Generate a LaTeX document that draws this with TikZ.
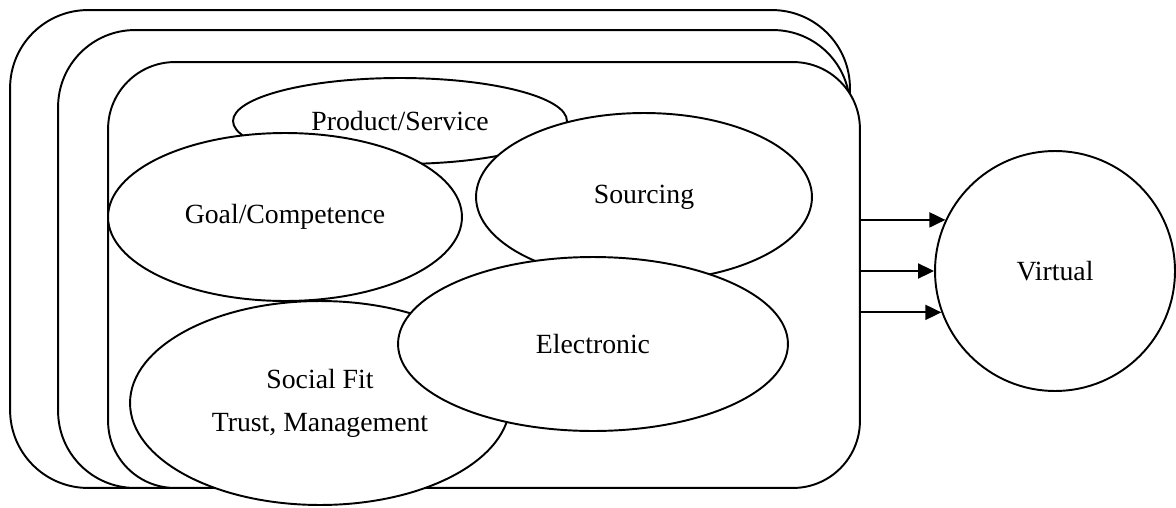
\documentclass[tikz,border=0pt]{standalone}
\usepackage{fontspec}
\setmainfont{Liberation Serif}
\usetikzlibrary{shapes.geometric,arrows.meta}
\tikzset{
  frame/.style={draw, fill=white, line width=1.1pt, rectangle},
  bubble/.style={draw, fill=white, line width=1.1pt, ellipse, inner sep=0pt,
    align=center, font=\fontsize{15.8}{24.5}\selectfont},
  flow/.style={draw, line width=1.1pt, -{Triangle[length=0.32cm,width=0.3cm]}},
}

\begin{document}
\begin{tikzpicture}[x=0.02cm, y=-0.02cm]
  \useasboundingbox (0,0) rectangle (1176,507);

  % stacked frames, back to front
  \node[frame, rounded corners=1.56cm, minimum width=16.8cm, minimum height=9.56cm] (back) at (430,249) {};
  \node[frame, rounded corners=1.54cm, minimum width=15.84cm, minimum height=9.16cm] (mid) at (454,259) {};
  \node[frame, rounded corners=1.34cm, minimum width=15.04cm, minimum height=8.52cm] (inner) at (484,275) {};

  % overlapping fields
  \node[bubble, minimum width=6.68cm, minimum height=1.72cm] (product) at (400,121) {Product/Service};
  \node[bubble, minimum width=7.08cm, minimum height=3.36cm] (goal) at (285,217) {Goal/Competence};
  \node[bubble, minimum width=6.72cm, minimum height=3.36cm] (sourcing) at (644,197) {Sourcing};
  \node[bubble, minimum width=7.6cm, minimum height=4.08cm] (social) at (320,403) {Social Fit\\Trust, Management};
  \node[bubble, minimum width=7.8cm, minimum height=3.48cm] (electronic) at (593,344) {Electronic};

  % result
  \node[bubble, circle, minimum size=4.8cm] (virtual) at (1055,271) {Virtual};

  \draw[flow] (virtual.155 -| inner.east) -- (virtual.155);
  \draw[flow] (virtual.180 -| inner.east) -- (virtual.180);
  \draw[flow] (virtual.200 -| inner.east) -- (virtual.200);
\end{tikzpicture}
\end{document}
